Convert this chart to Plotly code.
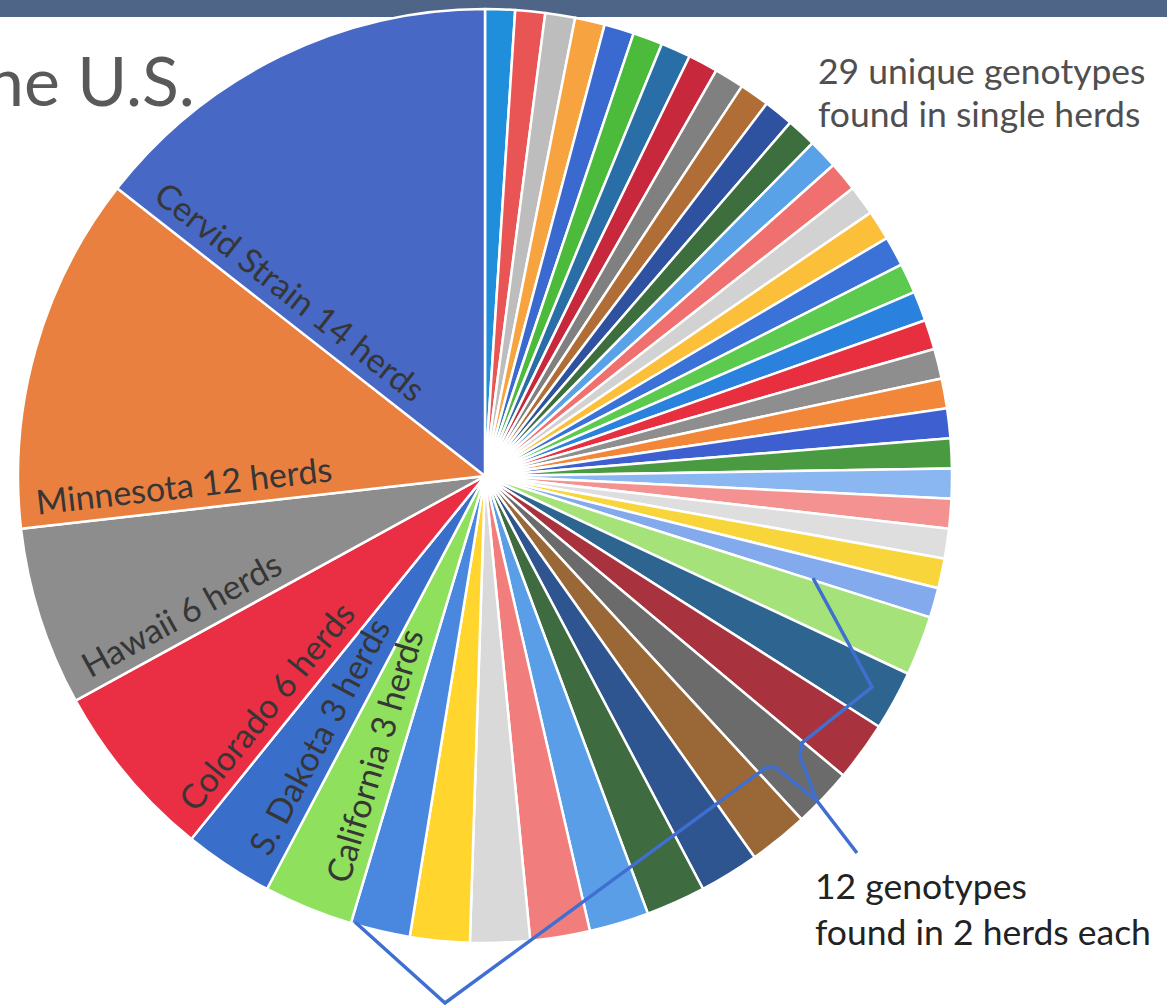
import math
import plotly.graph_objects as go

W, H = 1167, 1008

# ---- data (clockwise from 12 o'clock) ----
single_labels = ["single-herd genotype %d" % i for i in range(1, 30)]
single_herds = [1, 1, 1, 1, 1, 1, 1, 1, 1, 1, 1, 1, 1, 1, 1,
                1, 1, 1, 1, 1, 1, 1, 1, 1, 1, 1, 1, 1, 1]
single_colors = ["#1f8fdc", "#e95454", "#bdbdbd", "#f7a440", "#3a6ad0", "#4cbb3c",
                 "#2a6ea8", "#c8283c", "#808080", "#b06e36", "#2e52a0", "#3d6e3d",
                 "#5aa2e8", "#f07070", "#d2d2d2", "#fbbf3a", "#3a72d8", "#5cca4e",
                 "#2a82de", "#e82f40", "#8e8e8e", "#f2873a", "#3e5fcf", "#4a9a42",
                 "#8ab6f2", "#f49292", "#dedede", "#f8d53a", "#84aaee"]

double_labels = ["2-herd genotype %d" % i for i in range(1, 13)]
double_herds = [2, 2, 2, 2, 2, 2, 2, 2, 2, 2, 2, 2]
double_colors = ["#a6e27a", "#2e6590", "#a8333f", "#6b6b6b", "#9a6836", "#2e5590",
                 "#3e6b40", "#5b9ee8", "#f27d7d", "#d9d9d9", "#ffd52e", "#4a88e0"]

main_labels = ["California", "S. Dakota", "Colorado", "Hawaii", "Minnesota", "Cervid Strain"]
main_herds = [3, 3, 6, 6, 12, 14]
main_text = ["California 3 herds", "S. Dakota 3 herds", "Colorado 6 herds",
             "Hawaii 6 herds", "Minnesota 12 herds", "Cervid Strain 14 herds"]
main_colors = ["#8fe05c", "#3a6ecb", "#ea2f45", "#8d8d8d", "#ea8040", "#4768c4"]

labels = single_labels + double_labels + main_labels
values = single_herds + double_herds + main_herds
colors = single_colors + double_colors + main_colors

# pie geometry (pixels)
X0, X1, Y0, Y1 = 18, 952, 9, 943
CX, CY = (X0 + X1) / 2, (Y0 + Y1) / 2
FS = 34


def px(x, y):
    return x / W, 1 - y / H


fig = go.Figure()
fig.add_trace(go.Pie(
    labels=labels, values=values, textinfo="none",
    sort=False, direction="clockwise", rotation=0,
    marker=dict(colors=colors, line=dict(color="white", width=2.5)),
    hoverinfo="label+value", showlegend=False,
    domain=dict(x=[X0 / W, X1 / W], y=[1 - Y1 / H, 1 - Y0 / H]),
))

# slice labels laid along the counter-clockwise edge of each named slice
total = sum(values)
cum = 0
for name_text, v in zip(main_text[::-1], main_herds[::-1]):
    cum += v
    th = math.radians(360 * cum / total)       # boundary angle, ccw from top
    L = 0.48 * FS * len(name_text)
    rc = 447 - L / 2
    ux, uy = -math.sin(th), -math.cos(th)
    hx, hy = math.cos(th), -math.sin(th)
    x = CX + rc * ux + 26 * hx
    y = CY + rc * uy + 26 * hy
    ax, ay = px(x, y)
    fig.add_annotation(x=ax, y=ay, xref="paper", yref="paper", text=name_text,
                       showarrow=False, xanchor="center", yanchor="middle",
                       textangle=90 - math.degrees(th),
                       font=dict(family="Lato", size=FS, color="#363636"))

# top banner of the slide
fig.add_shape(type="rect", xref="paper", yref="paper",
              x0=0, x1=1, y0=1 - 17 / H, y1=1, fillcolor="#4e6587",
              line=dict(width=0), layer="below")

# bracket for the 12 two-herd genotypes
pts = [(355, 922), (445, 1003), (767, 767), (775, 767), (817, 801), (857, 853)]
pts2 = [(813, 578), (872, 687), (802, 743), (800, 757), (817, 801)]
for p in (pts, pts2):
    path = "M " + " L ".join("%.5f,%.5f" % px(x, y) for x, y in p)
    fig.add_shape(type="path", xref="paper", yref="paper", path=path,
                  line=dict(color="#3f6fd0", width=3.5))

# slide title fragment
tx, ty = px(197, 80)
fig.add_annotation(x=tx, y=ty, xref="paper", yref="paper", text="ne U.S.",
                   showarrow=False, xanchor="right", yanchor="middle",
                   font=dict(family="Lato", size=68, color="#595959"))

notes = [("29 unique genotypes", 816, 71, "#4f4f4f"),
         ("found in single herds", 816, 113, "#4f4f4f"),
         ("12 genotypes", 813, 885, "#222222"),
         ("found in 2 herds each", 813, 931, "#222222")]
for t, x, y, c in notes:
    ax, ay = px(x, y)
    fig.add_annotation(x=ax, y=ay, xref="paper", yref="paper", text=t,
                       showarrow=False, xanchor="left", yanchor="middle",
                       font=dict(family="Lato", size=35.5, color=c))

fig.update_layout(width=W, height=H, margin=dict(l=0, r=0, t=0, b=0),
                  paper_bgcolor="white", plot_bgcolor="white")
fig.write_html("out.html", config={"displayModeBar": False},
               post_script="document.body.style.margin='0';")
